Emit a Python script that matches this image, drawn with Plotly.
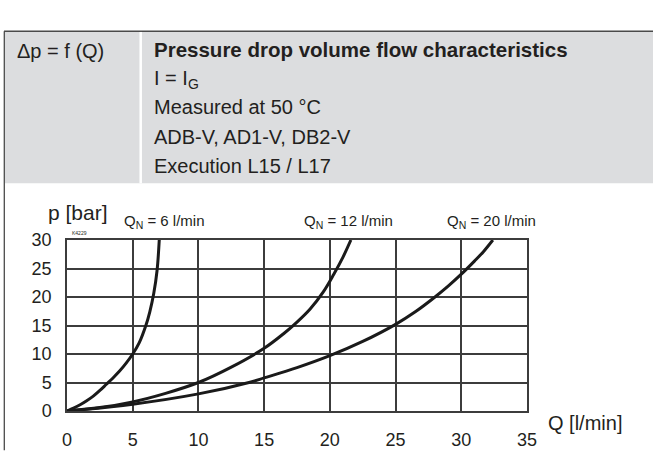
import plotly.graph_objects as go

# ---- data ----
q_qn6 = [0, 0.5, 1, 1.5, 2, 2.5, 3, 3.5, 4, 4.5, 5, 5.5, 6, 6.3, 6.6, 6.85, 7.02]
p_qn6 = [0, 0.5, 1.1, 1.8, 2.6, 3.6, 4.7, 5.8, 7.0, 8.4, 10, 12.0, 15.0, 17.4, 20.6, 24.6, 30]

q_qn12 = [0, 2.5, 5, 7.5, 10, 12.5, 15, 16.5, 17.5, 18.5, 19.5, 20.3, 21.0, 21.6]
p_qn12 = [0, 0.6, 1.6, 3.1, 5, 7.7, 11, 13.6, 15.6, 17.9, 20.9, 24.0, 27.0, 30]

q_qn20 = [0, 5, 10, 14, 15, 17.5, 20, 22.5, 25, 26.5, 28, 29, 30, 31, 31.7, 32.4]
p_qn20 = [0, 1.2, 3, 5.1, 5.8, 7.6, 9.7, 12.2, 15.2, 17.4, 20.0, 21.9, 24.0, 26.3, 28.0, 30]

x_ticks = [0, 5, 10, 15, 20, 25, 30, 35]
y_ticks = [0, 5, 10, 15, 20, 25, 30]

curve_labels = ["Q<sub>N</sub> = 6 l/min", "Q<sub>N</sub> = 12 l/min", "Q<sub>N</sub> = 20 l/min"]
header_left = "Δp = f (Q)"
header_lines = ["<b>Pressure drop volume flow characteristics</b>",
                "I = I<sub>G</sub>",
                "Measured at 50 °C",
                "ADB-V, AD1-V, DB2-V",
                "Execution L15 / L17"]

# ---- layout geometry ----
W, H = 653, 462
ML, MR, MT, MB = 67, 126, 240, 35
PW, PH = W - ML - MR, H - MT - MB


def xp(px):
    return (px - ML) / PW


def yp(py):
    return (H - MB - py) / PH


TXT = "#231f20"
GRID = "#3c3c3c"
SANS = "Liberation Sans, Arial, Helvetica, sans-serif"

fig = go.Figure()
for qx, py_ in [(q_qn6, p_qn6), (q_qn12, p_qn12), (q_qn20, p_qn20)]:
    fig.add_trace(go.Scatter(x=qx, y=py_, mode="lines",
                             line=dict(color="#1a1a1a", width=3, shape="spline", smoothing=1.0),
                             showlegend=False, hoverinfo="skip"))

shapes = [
    dict(type="rect", xref="paper", yref="paper", x0=xp(4.5), x1=xp(665), y0=yp(12), y1=yp(178),
         fillcolor="#dcdddf", line=dict(width=0), layer="below"),
    dict(type="line", xref="paper", yref="paper", x0=xp(4), x1=xp(665), y0=yp(11.7), y1=yp(11.7),
         line=dict(color="#4a4a4a", width=1.3)),
    dict(type="line", xref="paper", yref="paper", x0=xp(4.3), x1=xp(4.3), y0=yp(11.7), y1=yp(470),
         line=dict(color="#4a4a4a", width=1.3)),
    dict(type="line", xref="paper", yref="paper", x0=xp(140.7), x1=xp(140.7), y0=yp(12.5), y1=yp(178),
         line=dict(color="#ffffff", width=2.5)),
]

annotations = [
    dict(text=header_left, x=xp(15), y=yp(33), xref="paper", yref="paper", xanchor="left",
         yanchor="middle", showarrow=False, font=dict(family=SANS, size=20, color=TXT)),
]
header_y = [32, 65, 95, 127, 159]
for i, (t, yy) in enumerate(zip(header_lines, header_y)):
    annotations.append(dict(text=t, x=xp(152), y=yp(yy), xref="paper", yref="paper",
                            xanchor="left", yanchor="middle", showarrow=False,
                            font=dict(family=SANS, size=20.5 if i == 0 else 20, color=TXT)))

annotations += [
    dict(text="p [bar]", x=xp(46), y=yp(210), xref="paper", yref="paper", xanchor="left",
         yanchor="middle", showarrow=False, font=dict(family=SANS, size=21, color=TXT)),
    dict(text="K4229", x=xp(70), y=yp(232), xref="paper", yref="paper", xanchor="left",
         yanchor="middle", showarrow=False, font=dict(family=SANS, size=5, color=TXT)),
    dict(text="Q [l/min]", x=xp(546), y=yp(440), xref="paper", yref="paper", xanchor="left",
         yanchor="middle", showarrow=False, font=dict(family=SANS, size=20, color=TXT)),
]
for t, xx in zip(curve_labels, [121.7, 301.7, 445]):
    annotations.append(dict(text=t, x=xp(xx), y=yp(220), xref="paper", yref="paper",
                            xanchor="left", yanchor="middle", showarrow=False,
                            font=dict(family=SANS, size=15, color=TXT)))

fig.update_layout(
    width=W, height=H,
    margin=dict(l=ML, r=MR, t=MT, b=MB, pad=0),
    paper_bgcolor="white", plot_bgcolor="white",
    shapes=shapes, annotations=annotations,
    xaxis=dict(range=[0, 35], tickvals=x_ticks, ticktext=[str(v) for v in x_ticks],
               showgrid=True, gridcolor=GRID, gridwidth=1.5, zeroline=False,
               showline=True, mirror=True, linecolor=GRID, linewidth=1.5,
               ticks="", ticklabelstandoff=12,
               tickfont=dict(family=SANS, size=18, color=TXT), fixedrange=True),
    yaxis=dict(range=[0, 30], tickvals=y_ticks, ticktext=[str(v) for v in y_ticks],
               showgrid=True, gridcolor=GRID, gridwidth=1.5, zeroline=False,
               showline=True, mirror=True, linecolor=GRID, linewidth=1.5,
               ticks="", ticklabelstandoff=10,
               tickfont=dict(family=SANS, size=18, color=TXT), fixedrange=True),
)

fig.write_html("out.html", config={"displayModeBar": False})

# remove the default page margin so the figure sits at the window origin
with open("out.html", "r", encoding="utf-8") as f:
    html = f.read()
html = html.replace("<body>", '<body style="margin:0;overflow:hidden">', 1)
with open("out.html", "w", encoding="utf-8") as f:
    f.write(html)
